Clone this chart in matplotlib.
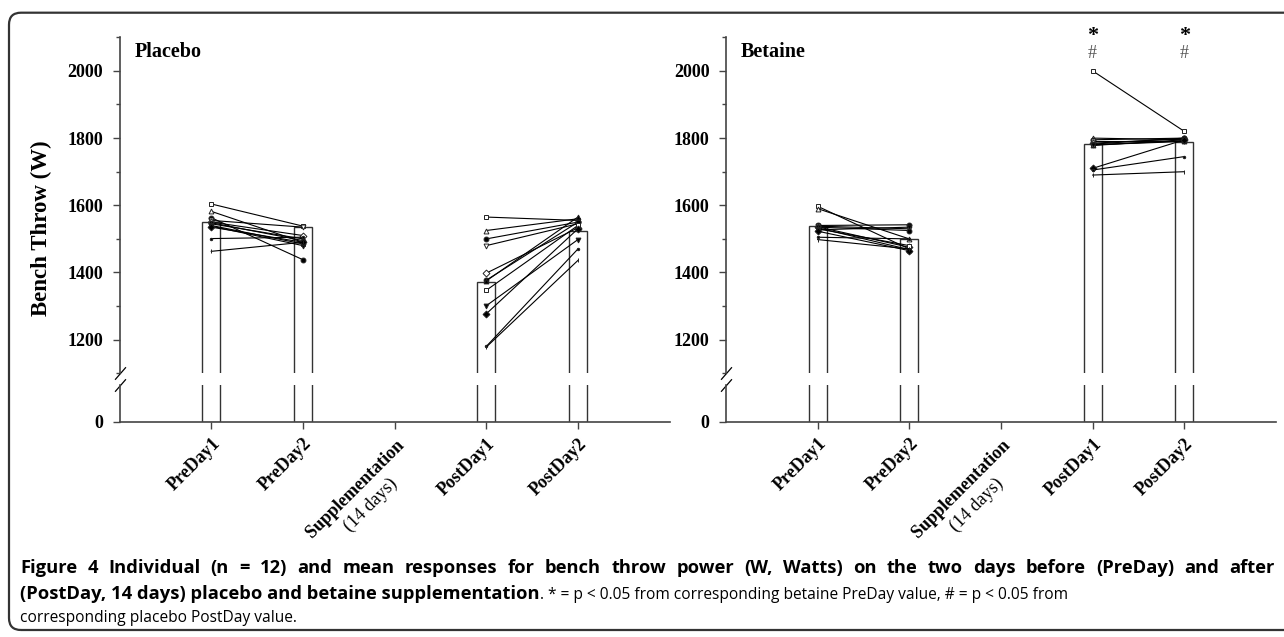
import numpy as np
import matplotlib
matplotlib.use("Agg")
import matplotlib.pyplot as plt
from matplotlib.patches import FancyBboxPatch
from matplotlib.transforms import IdentityTransform

# ---- data ----
days = ["PreDay1", "PreDay2", r"$\mathbf{Supplementation}$" + "\n(14 days)",
        "PostDay1", "PostDay2"]
day_pos = [1, 2, 3, 4, 5]
bar_pos = [1, 2, 4, 5]

placebo_mean = [1549, 1535, 1373, 1524]
betaine_mean = [1537, 1499, 1781, 1788]

placebo_pre1 = [1604, 1582, 1563, 1555, 1550, 1548, 1545, 1540, 1538, 1535, 1501, 1463]
placebo_pre2 = [1538, 1490, 1438, 1535, 1510, 1495, 1500, 1485, 1480, 1490, 1505, 1490]
placebo_post1 = [1565, 1525, 1500, 1480, 1398, 1377, 1375, 1347, 1301, 1277, 1180, 1178]
placebo_post2 = [1555, 1560, 1550, 1545, 1533, 1550, 1565, 1540, 1498, 1530, 1470, 1436]

betaine_pre1 = [1597, 1590, 1540, 1538, 1536, 1535, 1533, 1530, 1527, 1523, 1505, 1498]
betaine_pre2 = [1470, 1500, 1542, 1530, 1475, 1525, 1468, 1480, 1535, 1465, 1500, 1470]
betaine_post1 = [2000, 1800, 1795, 1790, 1785, 1782, 1780, 1778, 1780, 1710, 1705, 1690]
betaine_post2 = [1820, 1795, 1800, 1790, 1798, 1800, 1792, 1795, 1790, 1795, 1745, 1700]

sig_days = [4, 5]   # betaine PostDay1/PostDay2 marked * and #

markers = ["s", "^", "o", "v", "D", "o", "^", "s", "v", "D", ".", "|"]
fills = ["white", "white", "black", "white", "white", "black",
         "black", "white", "black", "black", "black", "black"]

plt.rcParams["mathtext.fontset"] = "custom"
plt.rcParams["mathtext.bf"] = "Liberation Serif:bold"
plt.rcParams["mathtext.rm"] = "Liberation Serif"

W, H = 1284, 637
fig = plt.figure(figsize=(W / 100, H / 100), dpi=100, facecolor="white")

SERIF = "Liberation Serif"
AX_W = 550 / W
TOP_B, TOP_H = 1 - 373.3 / H, 336 / H
BOT_B, BOT_H = 1 - 421.7 / H, 36.7 / H
SPINE = "#444444"


def draw_panel(x0, means, pre1, pre2, post1, post2, title):
    ax_t = fig.add_axes([x0, TOP_B, AX_W, TOP_H])
    ax_b = fig.add_axes([x0, BOT_B, AX_W, BOT_H], sharex=ax_t)

    for ax in (ax_t, ax_b):
        ax.bar(bar_pos, means, width=0.2, color="white", edgecolor="#333333",
               linewidth=1.0, zorder=1)
        ax.set_xlim(0, 6)
        for sp in ("top", "right"):
            ax.spines[sp].set_visible(False)
        for sp in ("left", "bottom"):
            ax.spines[sp].set_color(SPINE)
            ax.spines[sp].set_linewidth(1.2)
        ax.patch.set_alpha(0)

    # individual subjects
    for i in range(len(pre1)):
        kw = dict(color="black", linewidth=0.8, marker=markers[i], markersize=3.5,
                  markerfacecolor=fills[i], markeredgecolor="#222222",
                  markeredgewidth=0.7, zorder=3)
        ax_t.plot([1, 2], [pre1[i], pre2[i]], **kw)
        ax_t.plot([4, 5], [post1[i], post2[i]], **kw)

    ax_t.set_ylim(1100, 2100)
    ax_t.spines["bottom"].set_visible(False)
    ax_t.set_yticks([1200, 1400, 1600, 1800, 2000])
    ax_t.set_yticks(np.arange(1100, 2101, 100), minor=True)
    ax_t.tick_params(axis="y", which="major", length=4.8, width=1, pad=7,
                     color=SPINE, labelsize=13)
    ax_t.tick_params(axis="y", which="minor", length=2.9, width=1, color=SPINE)
    ax_t.tick_params(axis="x", which="both", bottom=False, labelbottom=False)
    for lab in ax_t.get_yticklabels():
        lab.set_family(SERIF)
        lab.set_fontweight("bold")

    ax_b.set_ylim(0, 109)
    ax_b.set_yticks([0])
    ax_b.tick_params(axis="y", length=4.8, width=1, pad=7, color=SPINE,
                     labelsize=13)
    for lab in ax_b.get_yticklabels():
        lab.set_family(SERIF)
        lab.set_fontweight("bold")
    ax_b.set_xticks(day_pos, days)
    ax_b.tick_params(axis="x", length=4.8, width=1, pad=5, color=SPINE)
    for j, lab in enumerate(ax_b.get_xticklabels()):
        lab.set_family(SERIF)
        lab.set_fontsize(13)
        lab.set_rotation(45)
        lab.set_rotation_mode("anchor")
        lab.set_ha("right")
        lab.set_va("top")
        lab.set_fontweight("normal" if j == 2 else "bold")
        lab.set_multialignment("center")

    # break marks on the y axis
    brk = dict(marker=[(-1, -1.15), (1, 1.15)], markersize=9, linestyle="none",
               color="black", mec="black", mew=0.9, clip_on=False)
    ax_t.plot([0], [0], transform=ax_t.transAxes, **brk)
    ax_b.plot([0], [1], transform=ax_b.transAxes, **brk)

    ax_t.text(0.165, 2055, title, family=SERIF, fontweight="bold",
              fontsize=14.5, va="center", ha="left")
    return ax_t, ax_b


draw_panel(119.6 / W, placebo_mean, placebo_pre1, placebo_pre2,
           placebo_post1, placebo_post2, "Placebo")
ax_bt, _ = draw_panel(726 / W, betaine_mean, betaine_pre1, betaine_pre2,
                      betaine_post1, betaine_post2, "Betaine")

for d in sig_days:
    ax_bt.text(d, 2104, "*", family=SERIF, fontweight="bold", fontsize=16,
               ha="center", va="center", clip_on=False)
    ax_bt.text(d, 2053, "#", family=SERIF, fontsize=13, color="#555555",
               ha="center", va="center", clip_on=False)

fig.text(41 / W, 1 - 228 / H, "Bench Throw (W)", family=SERIF,
         fontweight="bold", fontsize=16.5, rotation=90, ha="center", va="center")

# ---- caption ----
bold = dict(family="Open Sans", fontsize=13.2, fontweight="bold", va="baseline")
reg = dict(family="Open Sans", fontsize=11.2, va="baseline")
cx0, cx1 = 20, 1275
renderer = fig.canvas.get_renderer()

# first line is justified across the full width
words = ("Figure 4 Individual (n = 12) and mean responses for bench throw power "
         "(W, Watts) on the two days before (PreDay) and after").split(" ")
texts = [fig.text(0, 1 - 573 / H, w, **bold) for w in words]
widths = [t.get_window_extent(renderer=renderer).width for t in texts]
gap = (cx1 - cx0 - sum(widths)) / (len(words) - 1)
x = cx0
for t, w in zip(texts, widths):
    t.set_x(x / W)
    x += w + gap

t2 = fig.text(cx0 / W, 1 - 599 / H,
              "(PostDay, 14 days) placebo and betaine supplementation", **bold)
bb = t2.get_window_extent(renderer=renderer)
fig.text(bb.x1 / W, 1 - 599 / H,
         ". * = p < 0.05 from corresponding betaine PreDay value, "
         "# = p < 0.05 from", **reg)
fig.text(cx0 / W, 1 - 622 / H, "corresponding placebo PostDay value.", **reg)

# rounded frame around the whole figure
frame = FancyBboxPatch((9, H - 630), 1300, 630 - 12.7,
                       boxstyle="round,pad=0,rounding_size=12",
                       transform=IdentityTransform(), fill=False,
                       edgecolor="#333333", linewidth=1.6)
fig.add_artist(frame)

fig.savefig("out.png", dpi=100, facecolor="white")
